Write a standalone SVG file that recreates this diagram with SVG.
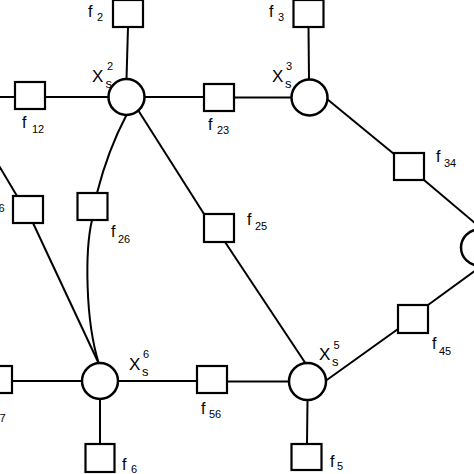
<svg xmlns="http://www.w3.org/2000/svg" width="474" height="474" viewBox="0 0 474 474">
<style>
.bg{fill:#fff}
.e{fill:none;stroke:#000;stroke-width:2}
.v{fill:#fff;stroke:#000;stroke-width:2.5}
.fac{fill:#fff;stroke:#000;stroke-width:2.2}
text{font-family:"Liberation Sans",Arial,sans-serif;fill:#000}
.f{font-size:16px}
.d{font-size:11px}
.x{font-size:17px}
.s{font-size:13px}
</style>
<rect class="bg" x="0" y="0" width="474" height="474"/>
<g id="connectors">
<line class="e" x1="-2" y1="97" x2="15" y2="97"/>
<line class="e" x1="45" y1="97" x2="108.5" y2="97"/>
<line class="e" x1="144.5" y1="97" x2="204" y2="97"/>
<line class="e" x1="234" y1="97.5" x2="291.5" y2="97.5"/>
<line class="e" x1="128" y1="27" x2="126.5" y2="79"/>
<line class="e" x1="308.5" y1="27" x2="309" y2="79.5"/>
<line class="e" x1="327" y1="99" x2="394" y2="154"/>
<line class="e" x1="424" y1="180" x2="476" y2="224"/>
<line class="e" x1="476" y1="270" x2="428" y2="305"/>
<line class="e" x1="324" y1="382" x2="398" y2="329"/>
<line class="e" x1="138" y1="110" x2="204" y2="214"/>
<line class="e" x1="225" y1="242" x2="306" y2="364"/>
<line class="e" x1="227" y1="381.5" x2="290" y2="381.5"/>
<line class="e" x1="118" y1="381" x2="197" y2="381"/>
<line class="e" x1="12" y1="381" x2="82" y2="381"/>
<line class="e" x1="100" y1="399" x2="100" y2="444"/>
<line class="e" x1="307.5" y1="400" x2="307" y2="444"/>
<line class="e" x1="-2" y1="164" x2="17" y2="196"/>
<line class="e" x1="33" y1="223" x2="99" y2="364"/>
<path class="e" d="M126.5,115 Q108,150 97,193"/>
<path class="e" d="M92,220 C85,250 85,320 99,364"/>
</g>
<g id="x2"><circle class="v" cx="126.5" cy="97" r="18"/><text class="x" x="92" y="82">X</text><text class="s" x="105.5" y="88">s</text><text class="d" x="107" y="70">2</text></g>
<g id="x3"><circle class="v" cx="309.5" cy="97.5" r="18"/><text class="x" x="272" y="82">X</text><text class="s" x="285" y="88">s</text><text class="d" x="286" y="70">3</text></g>
<g id="x4"><circle class="v" cx="479" cy="247.5" r="18"/></g>
<g id="x5"><circle class="v" cx="307.5" cy="381.5" r="18.5"/><text class="x" x="319" y="360">X</text><text class="s" x="332" y="366">s</text><text class="d" x="333.5" y="349">5</text></g>
<g id="x6"><circle class="v" cx="100" cy="381" r="18"/><text class="x" x="129" y="370">X</text><text class="s" x="142" y="376">s</text><text class="d" x="143" y="358">6</text></g>
<g id="f2"><rect class="fac" x="113" y="0" width="30" height="27"/><text class="f" x="88" y="17">f</text><text class="d" x="97" y="21">2</text></g>
<g id="f3"><rect class="fac" x="293.5" y="0" width="30" height="27"/><text class="f" x="269" y="17">f</text><text class="d" x="278" y="21">3</text></g>
<g id="f12"><rect class="fac" x="15" y="82" width="30" height="27"/><text class="f" x="22" y="128">f</text><text class="d" x="32" y="133">12</text></g>
<g id="f23"><rect class="fac" x="204" y="84" width="30" height="27"/><text class="f" x="208" y="130">f</text><text class="d" x="217" y="134">23</text></g>
<g id="f34"><rect class="fac" x="394" y="153" width="30" height="27"/><text class="f" x="436" y="162">f</text><text class="d" x="444" y="167">34</text></g>
<g id="f16"><rect class="fac" x="13" y="196" width="30" height="27"/><text class="d" x="-1.5" y="212">6</text></g>
<g id="f26"><rect class="fac" x="77.5" y="193" width="30" height="27"/><text class="f" x="111" y="237">f</text><text class="d" x="118" y="243">26</text></g>
<g id="f25"><rect class="fac" x="204" y="214" width="30" height="28"/><text class="f" x="247" y="225">f</text><text class="d" x="255" y="230">25</text></g>
<g id="f45"><rect class="fac" x="398" y="305" width="30" height="28"/><text class="f" x="432" y="349">f</text><text class="d" x="439" y="355">45</text></g>
<g id="f67"><rect class="fac" x="-18" y="366" width="30" height="27"/><text class="d" x="-0.5" y="422">7</text></g>
<g id="f56"><rect class="fac" x="197" y="366" width="30" height="27"/><text class="f" x="201" y="414">f</text><text class="d" x="209" y="418">56</text></g>
<g id="f6"><rect class="fac" x="85.5" y="444" width="29" height="28"/><text class="f" x="122" y="470">f</text><text class="d" x="131" y="473">6</text></g>
<g id="f5"><rect class="fac" x="291.5" y="444" width="30" height="26"/><text class="f" x="330" y="467">f</text><text class="d" x="337" y="470">5</text></g>
</svg>
